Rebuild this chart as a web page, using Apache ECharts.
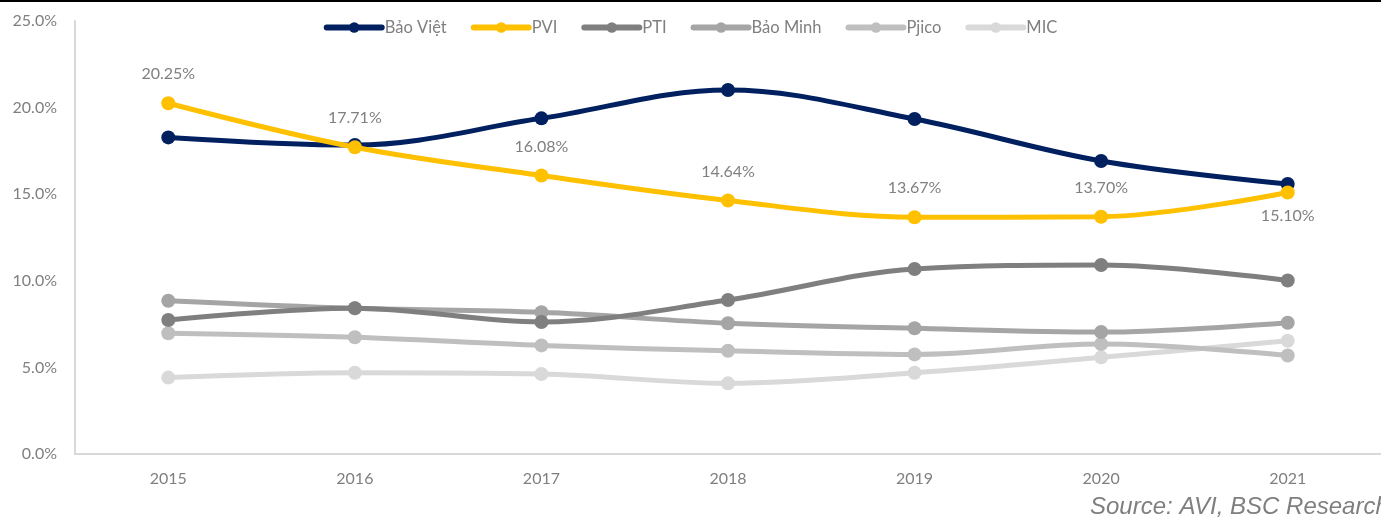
<!DOCTYPE html>
<html>
<head>
<meta charset="utf-8">
<script src="https://cdn.jsdelivr.net/npm/echarts@6/dist/echarts.min.js"></script>
<style>
  html, body { margin: 0; padding: 0; background: #fff; }
  #chart { width: 1381px; height: 518px; }
</style>
</head>
<body>
<div id="chart"></div>
<script>
// data
const years = ['2015', '2016', '2017', '2018', '2019', '2020', '2021'];
const baoViet = [18.28, 17.84, 19.38, 21.02, 19.34, 16.92, 15.59];
const pvi = [20.25, 17.71, 16.08, 14.64, 13.67, 13.70, 15.10];
const pti = [7.74, 8.42, 7.62, 8.89, 10.68, 10.91, 10.02];
const baoMinh = [8.85, 8.41, 8.18, 7.55, 7.26, 7.04, 7.58];
const pjico = [6.97, 6.74, 6.27, 5.96, 5.75, 6.35, 5.69];
const mic = [4.41, 4.69, 4.62, 4.08, 4.69, 5.58, 6.54];
const yTicks = [0, 5, 10, 15, 20, 25];

const font = 'Lato, "Open Sans", sans-serif';

function makeLine(name, data, color, z) {
    return {
        name: name,
        type: 'line',
        data: data,
        smooth: 0.35,
        symbol: 'circle',
        symbolSize: 14,
        z: z,
        lineStyle: { width: 5, color: color },
        itemStyle: { color: color },
        emphasis: { disabled: true }
    };
}

let myChart = echarts.init(document.getElementById('chart'));

let pviSeries = makeLine('PVI', pvi, '#FFC000', 9);
pviSeries.label = {
    show: true,
    position: 'top',
    distance: 14,
    color: '#808080',
    fontSize: 16,
    fontFamily: font,
    formatter: p => p.value.toFixed(2) + '%'
};
// last label sits under the point
pviSeries.data = pvi.map((v, i) => i === pvi.length - 1
    ? { value: v, label: { position: 'bottom', distance: 8 } }
    : v);

let option = {
    animation: false,
    backgroundColor: '#fff',
    textStyle: { fontFamily: font },
    legend: {
        top: 14,
        left: 'center',
        itemWidth: 55,
        itemHeight: 13,
        itemGap: 24,
        lineStyle: { width: 6, cap: 'round' },
        textStyle: { color: '#7f7f7f', fontSize: 16.5, fontFamily: font, padding: [0, 0, 0, -2] },
        data: ['Bảo Việt', 'PVI', 'PTI', 'Bảo Minh', 'Pjico', 'MIC']
    },
    grid: { left: 75, right: -5, top: 21, bottom: 64, containLabel: false },
    xAxis: {
        type: 'category',
        data: years,
        boundaryGap: true,
        axisLine: { lineStyle: { color: '#d9d9d9', width: 2 } },
        axisTick: { show: false },
        axisLabel: { color: '#7f7f7f', fontSize: 16, fontFamily: font, margin: 17 }
    },
    yAxis: {
        type: 'value',
        min: yTicks[0],
        max: yTicks[yTicks.length - 1],
        interval: 5,
        axisLine: { show: true, lineStyle: { color: '#d9d9d9', width: 2 } },
        axisTick: { show: false },
        splitLine: { show: false },
        axisLabel: {
            color: '#7f7f7f',
            fontSize: 16,
            fontFamily: font,
            margin: 18,
            formatter: v => v.toFixed(1) + '%'
        }
    },
    series: [
        makeLine('MIC', mic, '#D9D9D9', 3),
        makeLine('Pjico', pjico, '#BFBFBF', 4),
        makeLine('Bảo Minh', baoMinh, '#A5A5A5', 5),
        makeLine('PTI', pti, '#7F7F7F', 6),
        makeLine('Bảo Việt', baoViet, '#002060', 8),
        pviSeries
    ],
    graphic: [
        { type: 'rect', left: 0, top: 0, shape: { width: 1381, height: 2 }, style: { fill: '#000' } },
        {
            type: 'text',
            left: 1090,
            top: 495,
            style: {
                text: 'Source: AVI, BSC Research',
                font: 'italic 24px "Liberation Sans", Arial, sans-serif',
                fill: '#7f7f7f'
            }
        }
    ]
};

myChart.setOption(option);
</script>
</body>
</html>
